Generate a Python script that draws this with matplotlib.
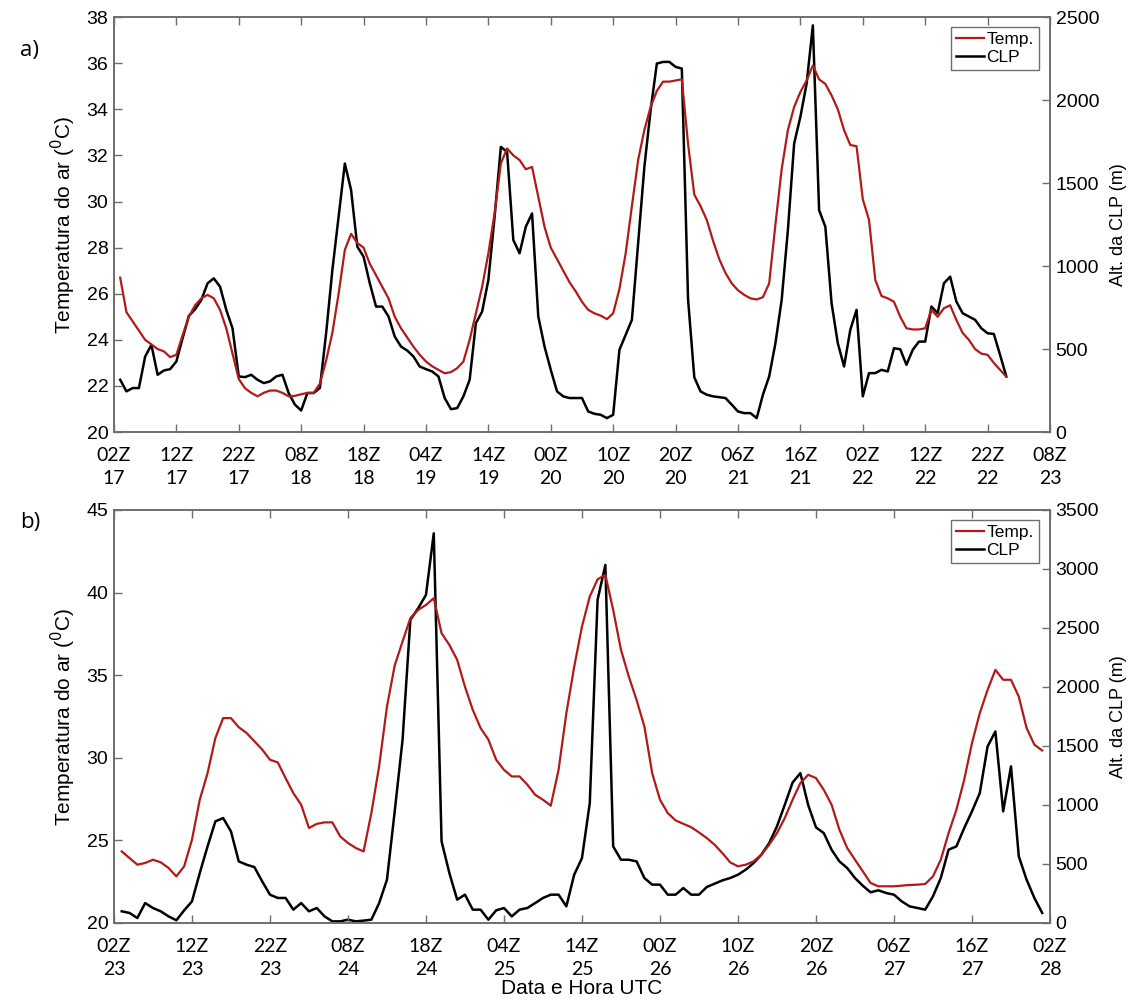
import matplotlib.pyplot as plt

# hourly values, hour 1 = 03Z of the first day on each panel
temp_a = [26.7, 25.2, 24.8, 24.4, 24.0, 23.8, 23.6, 23.5, 23.25, 23.35,
          24.2, 25.0, 25.5, 25.8, 25.95, 25.8, 25.3, 24.5, 23.4, 22.3,
          21.9, 21.7, 21.55, 21.7, 21.8, 21.8, 21.7, 21.55, 21.57, 21.64,
          21.7, 21.7, 22.1, 23.1, 24.3, 26.0, 27.9, 28.6, 28.2, 28.0,
          27.3, 26.8, 26.3, 25.8, 25.0, 24.5, 24.1, 23.7, 23.35, 23.06,
          22.85, 22.7, 22.55, 22.6, 22.77, 23.06, 24.0, 25.15, 26.3, 27.75,
          29.5, 31.65, 32.3, 32.0, 31.8, 31.4, 31.5, 30.2, 28.9, 28.0,
          27.5, 27.0, 26.5, 26.1, 25.65, 25.3, 25.15, 25.05, 24.9, 25.15,
          26.2, 27.75, 29.8, 31.8, 33.1, 34.1, 34.8, 35.2, 35.2, 35.25,
          35.3, 32.5, 30.3, 29.8, 29.2, 28.3, 27.5, 26.9, 26.45, 26.15,
          25.95, 25.8, 25.75, 25.85, 26.45, 29.0, 31.4, 33.1, 34.1, 34.75,
          35.25, 35.9, 35.3, 35.1, 34.6, 34.0, 33.1, 32.45, 32.4, 30.1,
          29.2, 26.6, 25.9, 25.8, 25.65, 25.0, 24.5, 24.45, 24.45, 24.5,
          25.3, 25.0, 25.37, 25.5, 24.86, 24.3, 24.0, 23.6, 23.4, 23.35,
          23.0, 22.7, 22.4]
clp_a = [315, 245, 265, 265, 455, 525, 345, 371, 379, 425,
         565, 700, 740, 796, 896, 926, 876, 736, 625, 335,
         331, 345, 315, 295, 305, 335, 345, 235, 165, 130,
         235, 235, 265, 595, 976, 1297, 1618, 1458, 1117, 1057,
         896, 756, 756, 696, 575, 515, 491, 455, 395, 379,
         365, 335, 205, 138, 144, 215, 315, 656, 726, 916,
         1297, 1718, 1688, 1157, 1077, 1237, 1317, 696, 515, 375,
         245, 215, 205, 205, 205, 124, 110, 104, 84, 104,
         495, 585, 676, 1137, 1598, 1939, 2220, 2230, 2230, 2200,
         2190, 800, 330, 245, 225, 215, 210, 205, 165, 124,
         114, 114, 84, 225, 335, 535, 796, 1217, 1738, 1899,
         2099, 2450, 1337, 1237, 776, 535, 395, 616, 736, 215,
         355, 355, 375, 365, 505, 499, 405, 495, 545, 545,
         756, 716, 896, 936, 786, 716, 696, 676, 625, 595,
         591, 465, 335]

temp_b = [24.33, 23.93, 23.53, 23.63, 23.83, 23.67, 23.33, 22.82, 23.43, 25.04,
          27.46, 29.07, 31.19, 32.4, 32.4, 31.85, 31.5, 31.0, 30.5, 29.88,
          29.72, 28.77, 27.86, 27.16, 25.75, 26.0, 26.09, 26.09, 25.24, 24.84,
          24.54, 24.33, 26.65, 29.5, 33.1, 35.6, 37.04, 38.45, 38.95, 39.25,
          39.66, 37.54, 36.83, 35.93, 34.3, 32.9, 31.8, 31.1, 29.88, 29.27,
          28.87, 28.87, 28.37, 27.76, 27.46, 27.1, 29.27, 32.7, 35.5, 37.94,
          39.76, 40.8, 41.07, 38.95, 36.53, 34.92, 33.5, 31.9, 29.07, 27.46,
          26.65, 26.21, 26.0, 25.8, 25.48, 25.14, 24.74, 24.23, 23.67, 23.43,
          23.53, 23.73, 24.13, 24.74, 25.44, 26.35, 27.46, 28.47, 28.97, 28.77,
          28.06, 27.16, 25.65, 24.54, 23.83, 23.13, 22.42, 22.22, 22.22, 22.22,
          22.26, 22.3, 22.32, 22.36, 22.82, 23.83, 25.44, 26.85, 28.67, 30.89,
          32.7, 34.11, 35.32, 34.72, 34.72, 33.7, 31.8, 30.79, 30.44]
clp_b = [99, 85, 42, 169, 127, 99, 56, 23, 107, 183,
         423, 649, 861, 889, 776, 522, 494, 474, 353, 240,
         212, 212, 113, 169, 99, 127, 56, 14, 14, 28,
         14, 20, 28, 169, 367, 950, 1552, 2569, 2667, 2780,
         3302, 692, 423, 198, 240, 113, 113, 28, 107, 127,
         56, 113, 127, 169, 212, 240, 240, 141, 409, 550,
         1016, 2738, 3034, 649, 536, 536, 522, 381, 325, 325,
         240, 240, 296, 240, 240, 305, 333, 361, 381, 409,
         452, 508, 579, 677, 819, 1002, 1190, 1270, 1000, 810,
         762, 621, 522, 466, 381, 316, 260, 277, 254, 240,
         183, 141, 127, 113, 226, 381, 621, 649, 804, 946,
         1101, 1496, 1623, 946, 1327, 565, 367, 212, 85]

xlab_a = ['02Z\n17', '12Z\n17', '22Z\n17', '08Z\n18', '18Z\n18', '04Z\n19',
          '14Z\n19', '00Z\n20', '10Z\n20', '20Z\n20', '06Z\n21', '16Z\n21',
          '02Z\n22', '12Z\n22', '22Z\n22', '08Z\n23']
xlab_b = ['02Z\n23', '12Z\n23', '22Z\n23', '08Z\n24', '18Z\n24', '04Z\n25',
          '14Z\n25', '00Z\n26', '10Z\n26', '20Z\n26', '06Z\n27', '16Z\n27',
          '02Z\n28']

RED = '#b11a1a'
EDGE = '#6e6e6e'
plt.rcParams['font.family'] = ['Liberation Sans', 'DejaVu Sans']

fig = plt.figure(figsize=(11.35, 10.05), dpi=100)


def panel(rect, temp, clp, xlab, tlim, tstep, clim, letter, lpos):
    ax = fig.add_axes(rect)
    ax2 = ax.twinx()
    hrs = range(1, len(temp) + 1)
    l1, = ax.plot(hrs, temp, color=RED, lw=1.6, zorder=3)
    l2, = ax2.plot(hrs, clp, color='black', lw=1.8)
    ax.set_zorder(ax2.get_zorder() + 1)
    ax.patch.set_visible(False)

    ax.set_xlim(0, 10 * (len(xlab) - 1))
    ax.set_xticks(range(0, 10 * len(xlab), 10))
    ax.set_xticklabels(xlab, family='Lato', fontsize=15.5, linespacing=1.4)
    ax.set_ylim(*tlim)
    ax.set_yticks(range(tlim[0], tlim[1] + 1, tstep))
    ax2.set_ylim(*clim)
    ax2.set_yticks(range(clim[0], clim[1] + 1, 500))

    for a in (ax, ax2):
        a.tick_params(direction='in', length=6, width=1, color=EDGE,
                      labelsize=14, pad=4, top=True)
        for s in a.spines.values():
            s.set_color(EDGE)
            s.set_linewidth(1.2)
    ax.tick_params(axis='x', pad=11)

    ax.set_ylabel('Temperatura do ar ($^0$C)', fontsize=15, labelpad=6)
    ax2.set_ylabel('Alt. da CLP (m)', fontsize=13, labelpad=8)
    ax.text(-0.1, lpos, letter, transform=ax.transAxes, fontsize=16,
            family='Open Sans', va='center')

    ax.legend([l1, l2], ['Temp.', 'CLP'], loc='upper right',
              bbox_to_anchor=(0.988, 0.976), fontsize=12.5, frameon=True,
              fancybox=False, edgecolor=EDGE, framealpha=1,
              handlelength=1.6, handletextpad=0.15, labelspacing=0.15,
              borderpad=0.3, borderaxespad=0)
    return ax


panel([0.1004, 0.5701, 0.8247, 0.4129], temp_a, clp_a, xlab_a, (20, 38), 2,
      (0, 2500), 'a)', 0.92)
axb = panel([0.1004, 0.0816, 0.8247, 0.411], temp_b, clp_b, xlab_b, (20, 45),
            5, (0, 3500), 'b)', 0.97)
axb.set_xlabel('Data e Hora UTC', fontsize=15, labelpad=1)

fig.savefig('out.png', dpi=100)
